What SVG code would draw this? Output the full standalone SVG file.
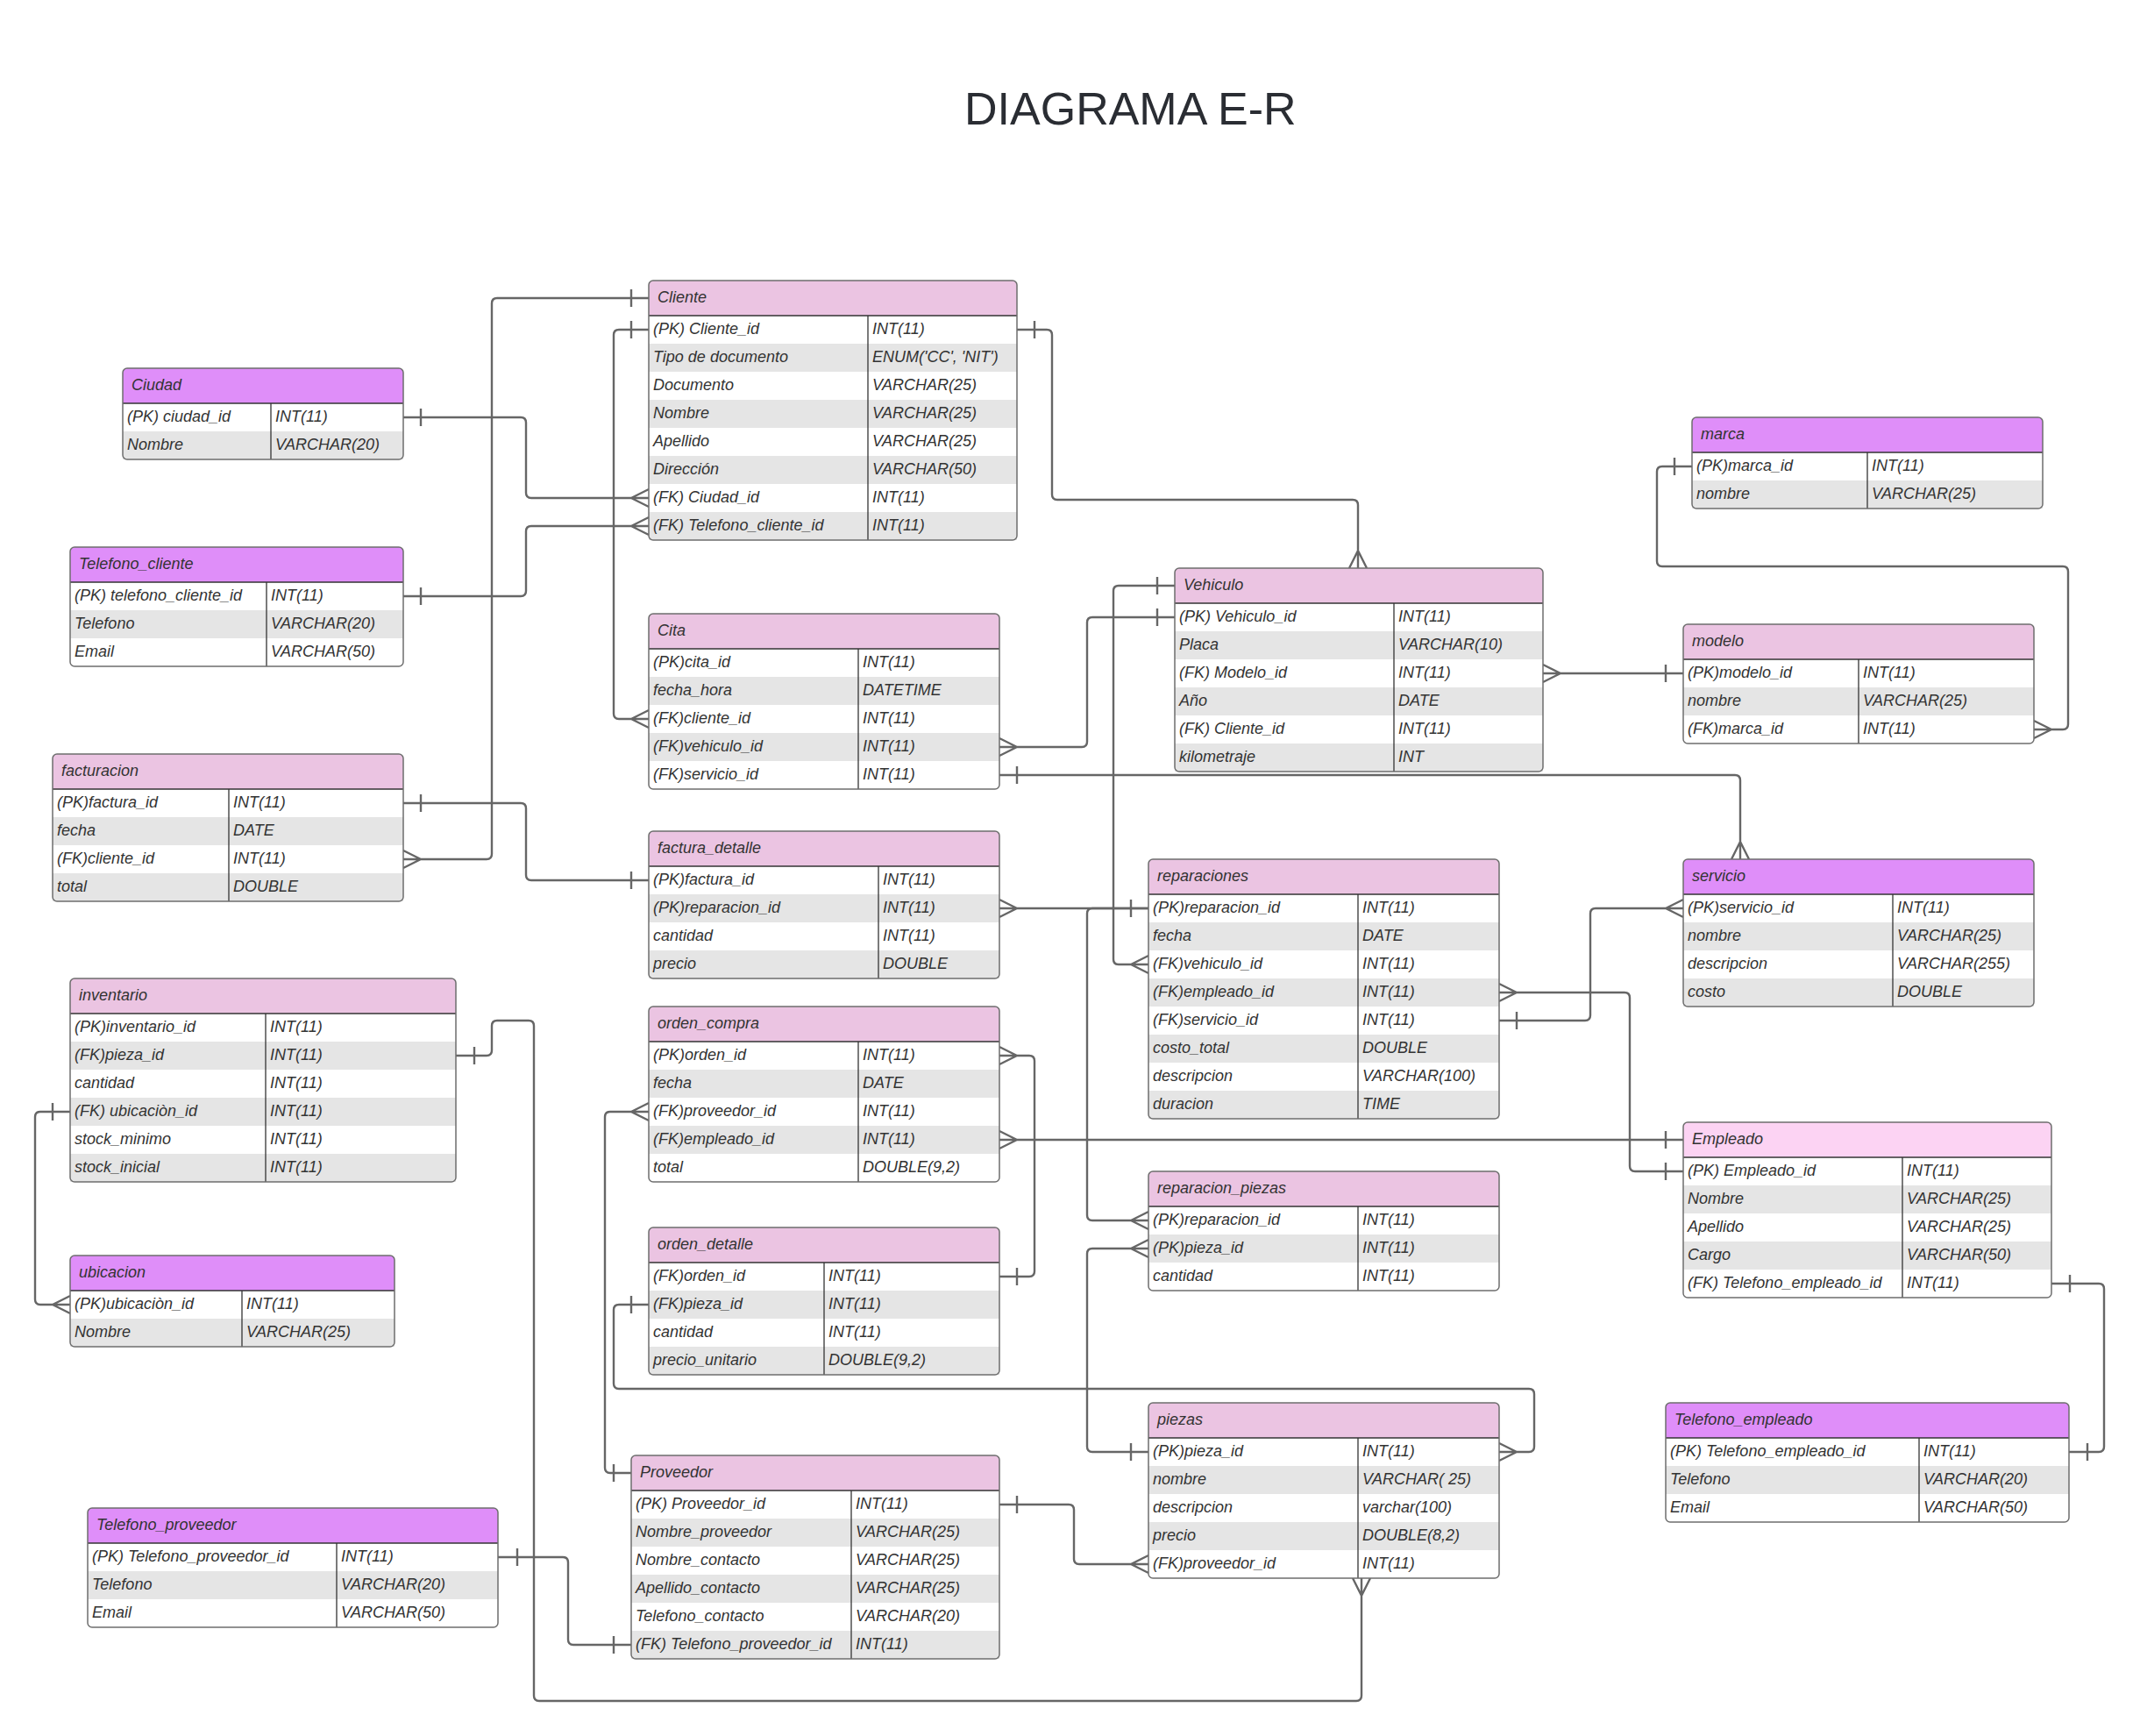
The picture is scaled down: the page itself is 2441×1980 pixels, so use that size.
<svg xmlns="http://www.w3.org/2000/svg" width="2441" height="1980" viewBox="0 0 2441 1980">
<style>
.bg{fill:#fff}
.hp{fill:#df8ef9}
.hk{fill:#ebc4e2}
.he{fill:#fcd3f3}
.g{fill:#e5e5e5}
.ol{fill:none;stroke:#6e6e6e;stroke-width:1.5}
.sep{stroke:#333;stroke-width:1.3}
text{font-family:"Liberation Sans",Arial,sans-serif;font-size:18px;font-style:italic;fill:#333}
text.title{font-size:52px;font-style:normal;fill:#2a2d33}
.cn path{fill:none;stroke:#666;stroke-width:2.4;stroke-linejoin:round}
</style>
<rect width="2441" height="1980" fill="#fff"/>
<text class="title" x="1100" y="142">DIAGRAMA E-R</text>

<g class="cn" id="connectors">
<path d="M460,476 H594 Q600,476 600,482 V562 Q600,568 606,568 H740 M480,466 V486 M740,558 L720,568 L740,578"/>
<path d="M460,680 H594 Q600,680 600,674 V606 Q600,600 606,600 H740 M480,670 V690 M740,590 L720,600 L740,610"/>
<path d="M740,340 H567 Q561,340 561,346 V974 Q561,980 555,980 H460 M720,330 V350 M460,970 L480,980 L460,990"/>
<path d="M740,376 H706 Q700,376 700,382 V814 Q700,820 706,820 H740 M720,366 V386 M740,810 L720,820 L740,830"/>
<path d="M1160,376 H1194 Q1200,376 1200,382 V564 Q1200,570 1206,570 H1543 Q1549,570 1549,576 V648 M1180,366 V386 M1539,648 L1549,628 L1559,648"/>
<path d="M1340,704 H1246 Q1240,704 1240,710 V846 Q1240,852 1234,852 H1140 M1320,694 V714 M1140,842 L1160,852 L1140,862"/>
<path d="M1340,668 H1276 Q1270,668 1270,674 V1094 Q1270,1100 1276,1100 H1310 M1320,658 V678 M1310,1090 L1290,1100 L1310,1110"/>
<path d="M1140,884 H1979 Q1985,884 1985,890 V980 M1160,874 V894 M1975,980 L1985,960 L1995,980"/>
<path d="M1760,768 H1920 M1760,758 L1780,768 L1760,778 M1900,758 V778"/>
<path d="M1930,532 H1896 Q1890,532 1890,538 V640 Q1890,646 1896,646 H2353 Q2359,646 2359,652 V826 Q2359,832 2353,832 H2320 M1910,522 V542 M2320,822 L2340,832 L2320,842"/>
<path d="M460,916 H594 Q600,916 600,922 V998 Q600,1004 606,1004 H740 M480,906 V926 M720,994 V1014"/>
<path d="M1140,1036 H1310 M1140,1026 L1160,1036 L1140,1046 M1290,1026 V1046"/>
<path d="M1310,1036 H1246 Q1240,1036 1240,1042 V1386 Q1240,1392 1246,1392 H1310 M1310,1382 L1290,1392 L1310,1402"/>
<path d="M1310,1656 H1246 Q1240,1656 1240,1650 V1430 Q1240,1424 1246,1424 H1310 M1290,1646 V1666 M1310,1414 L1290,1424 L1310,1434"/>
<path d="M1710,1132 H1853 Q1859,1132 1859,1138 V1330 Q1859,1336 1865,1336 H1920 M1710,1122 L1730,1132 L1710,1142 M1900,1326 V1346"/>
<path d="M1710,1164 H1808 Q1814,1164 1814,1158 V1042 Q1814,1036 1820,1036 H1920 M1730,1154 V1174 M1920,1026 L1900,1036 L1920,1046"/>
<path d="M1140,1300 H1920 M1140,1290 L1160,1300 L1140,1310 M1900,1290 V1310"/>
<path d="M1140,1204 H1174 Q1180,1204 1180,1210 V1450 Q1180,1456 1174,1456 H1140 M1140,1194 L1160,1204 L1140,1214 M1160,1446 V1466"/>
<path d="M740,1268 H696 Q690,1268 690,1274 V1674 Q690,1680 696,1680 H720 M740,1258 L720,1268 L740,1278 M700,1670 V1690"/>
<path d="M740,1488 H706 Q700,1488 700,1494 V1578 Q700,1584 706,1584 H1744 Q1750,1584 1750,1590 V1650 Q1750,1656 1744,1656 H1710 M720,1478 V1498 M1710,1646 L1730,1656 L1710,1666"/>
<path d="M1140,1716 H1219 Q1225,1716 1225,1722 V1778 Q1225,1784 1231,1784 H1310 M1160,1706 V1726 M1310,1774 L1290,1784 L1310,1794"/>
<path d="M568,1776 H642 Q648,1776 648,1782 V1870 Q648,1876 654,1876 H720 M590,1766 V1786 M700,1866 V1886"/>
<path d="M520,1204 H555 Q561,1204 561,1198 V1170 Q561,1164 567,1164 H603 Q609,1164 609,1170 V1934 Q609,1940 615,1940 H1547 Q1553,1940 1553,1934 V1800 M541,1194 V1214 M1543,1800 L1553,1820 L1563,1800"/>
<path d="M80,1268 H46 Q40,1268 40,1274 V1482 Q40,1488 46,1488 H80 M60,1258 V1278 M80,1478 L60,1488 L80,1498"/>
<path d="M2340,1464 H2394 Q2400,1464 2400,1470 V1650 Q2400,1656 2394,1656 H2360 M2361,1454 V1474 M2381,1646 V1666"/>
</g>

<g id="ciudad">
<rect class="bg" x="140" y="420" width="320" height="104" rx="5"/>
<rect class="hp" x="140" y="420" width="320" height="40" rx="5"/><rect class="hp" x="140" y="440" width="320" height="20"/>
<rect class="g" x="140" y="492" width="320" height="32"/>
<line class="sep" x1="140" y1="460" x2="460" y2="460"/><line class="sep" x1="309" y1="460" x2="309" y2="524"/>
<rect class="ol" x="140" y="420" width="320" height="104" rx="5"/>
<text x="150" y="445">Ciudad</text>
<text x="145" y="481">(PK) ciudad_id</text><text x="314" y="481">INT(11)</text>
<text x="145" y="513">Nombre</text><text x="314" y="513">VARCHAR(20)</text>
</g>

<g id="telefono_cliente">
<rect class="bg" x="80" y="624" width="380" height="136" rx="5"/>
<rect class="hp" x="80" y="624" width="380" height="40" rx="5"/><rect class="hp" x="80" y="644" width="380" height="20"/>
<rect class="g" x="80" y="696" width="380" height="32"/>
<line class="sep" x1="80" y1="664" x2="460" y2="664"/><line class="sep" x1="304" y1="664" x2="304" y2="760"/>
<rect class="ol" x="80" y="624" width="380" height="136" rx="5"/>
<text x="90" y="649">Telefono_cliente</text>
<text x="85" y="685">(PK) telefono_cliente_id</text><text x="309" y="685">INT(11)</text>
<text x="85" y="717">Telefono</text><text x="309" y="717">VARCHAR(20)</text>
<text x="85" y="749">Email</text><text x="309" y="749">VARCHAR(50)</text>
</g>

<g id="facturacion">
<rect class="bg" x="60" y="860" width="400" height="168" rx="5"/>
<rect class="hk" x="60" y="860" width="400" height="40" rx="5"/><rect class="hk" x="60" y="880" width="400" height="20"/>
<rect class="g" x="60" y="932" width="400" height="32"/><rect class="g" x="60" y="996" width="400" height="32"/>
<line class="sep" x1="60" y1="900" x2="460" y2="900"/><line class="sep" x1="261" y1="900" x2="261" y2="1028"/>
<rect class="ol" x="60" y="860" width="400" height="168" rx="5"/>
<text x="70" y="885">facturacion</text>
<text x="65" y="921">(PK)factura_id</text><text x="266" y="921">INT(11)</text>
<text x="65" y="953">fecha</text><text x="266" y="953">DATE</text>
<text x="65" y="985">(FK)cliente_id</text><text x="266" y="985">INT(11)</text>
<text x="65" y="1017">total</text><text x="266" y="1017">DOUBLE</text>
</g>

<g id="inventario">
<rect class="bg" x="80" y="1116" width="440" height="232" rx="5"/>
<rect class="hk" x="80" y="1116" width="440" height="40" rx="5"/><rect class="hk" x="80" y="1136" width="440" height="20"/>
<rect class="g" x="80" y="1188" width="440" height="32"/><rect class="g" x="80" y="1252" width="440" height="32"/><rect class="g" x="80" y="1316" width="440" height="32"/>
<line class="sep" x1="80" y1="1156" x2="520" y2="1156"/><line class="sep" x1="303" y1="1156" x2="303" y2="1348"/>
<rect class="ol" x="80" y="1116" width="440" height="232" rx="5"/>
<text x="90" y="1141">inventario</text>
<text x="85" y="1177">(PK)inventario_id</text><text x="308" y="1177">INT(11)</text>
<text x="85" y="1209">(FK)pieza_id</text><text x="308" y="1209">INT(11)</text>
<text x="85" y="1241">cantidad</text><text x="308" y="1241">INT(11)</text>
<text x="85" y="1273">(FK) ubicaciòn_id</text><text x="308" y="1273">INT(11)</text>
<text x="85" y="1305">stock_minimo</text><text x="308" y="1305">INT(11)</text>
<text x="85" y="1337">stock_inicial</text><text x="308" y="1337">INT(11)</text>
</g>

<g id="ubicacion">
<rect class="bg" x="80" y="1432" width="370" height="104" rx="5"/>
<rect class="hp" x="80" y="1432" width="370" height="40" rx="5"/><rect class="hp" x="80" y="1452" width="370" height="20"/>
<rect class="g" x="80" y="1504" width="370" height="32"/>
<line class="sep" x1="80" y1="1472" x2="450" y2="1472"/><line class="sep" x1="276" y1="1472" x2="276" y2="1536"/>
<rect class="ol" x="80" y="1432" width="370" height="104" rx="5"/>
<text x="90" y="1457">ubicacion</text>
<text x="85" y="1493">(PK)ubicaciòn_id</text><text x="281" y="1493">INT(11)</text>
<text x="85" y="1525">Nombre</text><text x="281" y="1525">VARCHAR(25)</text>
</g>

<g id="telefono_proveedor">
<rect class="bg" x="100" y="1720" width="468" height="136" rx="5"/>
<rect class="hp" x="100" y="1720" width="468" height="40" rx="5"/><rect class="hp" x="100" y="1740" width="468" height="20"/>
<rect class="g" x="100" y="1792" width="468" height="32"/>
<line class="sep" x1="100" y1="1760" x2="568" y2="1760"/><line class="sep" x1="384" y1="1760" x2="384" y2="1856"/>
<rect class="ol" x="100" y="1720" width="468" height="136" rx="5"/>
<text x="110" y="1745">Telefono_proveedor</text>
<text x="105" y="1781">(PK) Telefono_proveedor_id</text><text x="389" y="1781">INT(11)</text>
<text x="105" y="1813">Telefono</text><text x="389" y="1813">VARCHAR(20)</text>
<text x="105" y="1845">Email</text><text x="389" y="1845">VARCHAR(50)</text>
</g>

<g id="cliente">
<rect class="bg" x="740" y="320" width="420" height="296" rx="5"/>
<rect class="hk" x="740" y="320" width="420" height="40" rx="5"/><rect class="hk" x="740" y="340" width="420" height="20"/>
<rect class="g" x="740" y="392" width="420" height="32"/><rect class="g" x="740" y="456" width="420" height="32"/><rect class="g" x="740" y="520" width="420" height="32"/><rect class="g" x="740" y="584" width="420" height="32"/>
<line class="sep" x1="740" y1="360" x2="1160" y2="360"/><line class="sep" x1="990" y1="360" x2="990" y2="616"/>
<rect class="ol" x="740" y="320" width="420" height="296" rx="5"/>
<text x="750" y="345">Cliente</text>
<text x="745" y="381">(PK) Cliente_id</text><text x="995" y="381">INT(11)</text>
<text x="745" y="413">Tipo de documento</text><text x="995" y="413">ENUM('CC', 'NIT')</text>
<text x="745" y="445">Documento</text><text x="995" y="445">VARCHAR(25)</text>
<text x="745" y="477">Nombre</text><text x="995" y="477">VARCHAR(25)</text>
<text x="745" y="509">Apellido</text><text x="995" y="509">VARCHAR(25)</text>
<text x="745" y="541">Dirección</text><text x="995" y="541">VARCHAR(50)</text>
<text x="745" y="573">(FK) Ciudad_id</text><text x="995" y="573">INT(11)</text>
<text x="745" y="605">(FK) Telefono_cliente_id</text><text x="995" y="605">INT(11)</text>
</g>

<g id="cita">
<rect class="bg" x="740" y="700" width="400" height="200" rx="5"/>
<rect class="hk" x="740" y="700" width="400" height="40" rx="5"/><rect class="hk" x="740" y="720" width="400" height="20"/>
<rect class="g" x="740" y="772" width="400" height="32"/><rect class="g" x="740" y="836" width="400" height="32"/>
<line class="sep" x1="740" y1="740" x2="1140" y2="740"/><line class="sep" x1="979" y1="740" x2="979" y2="900"/>
<rect class="ol" x="740" y="700" width="400" height="200" rx="5"/>
<text x="750" y="725">Cita</text>
<text x="745" y="761">(PK)cita_id</text><text x="984" y="761">INT(11)</text>
<text x="745" y="793">fecha_hora</text><text x="984" y="793">DATETIME</text>
<text x="745" y="825">(FK)cliente_id</text><text x="984" y="825">INT(11)</text>
<text x="745" y="857">(FK)vehiculo_id</text><text x="984" y="857">INT(11)</text>
<text x="745" y="889">(FK)servicio_id</text><text x="984" y="889">INT(11)</text>
</g>

<g id="factura_detalle">
<rect class="bg" x="740" y="948" width="400" height="168" rx="5"/>
<rect class="hk" x="740" y="948" width="400" height="40" rx="5"/><rect class="hk" x="740" y="968" width="400" height="20"/>
<rect class="g" x="740" y="1020" width="400" height="32"/><rect class="g" x="740" y="1084" width="400" height="32"/>
<line class="sep" x1="740" y1="988" x2="1140" y2="988"/><line class="sep" x1="1002" y1="988" x2="1002" y2="1116"/>
<rect class="ol" x="740" y="948" width="400" height="168" rx="5"/>
<text x="750" y="973">factura_detalle</text>
<text x="745" y="1009">(PK)factura_id</text><text x="1007" y="1009">INT(11)</text>
<text x="745" y="1041">(PK)reparacion_id</text><text x="1007" y="1041">INT(11)</text>
<text x="745" y="1073">cantidad</text><text x="1007" y="1073">INT(11)</text>
<text x="745" y="1105">precio</text><text x="1007" y="1105">DOUBLE</text>
</g>

<g id="orden_compra">
<rect class="bg" x="740" y="1148" width="400" height="200" rx="5"/>
<rect class="hk" x="740" y="1148" width="400" height="40" rx="5"/><rect class="hk" x="740" y="1168" width="400" height="20"/>
<rect class="g" x="740" y="1220" width="400" height="32"/><rect class="g" x="740" y="1284" width="400" height="32"/>
<line class="sep" x1="740" y1="1188" x2="1140" y2="1188"/><line class="sep" x1="979" y1="1188" x2="979" y2="1348"/>
<rect class="ol" x="740" y="1148" width="400" height="200" rx="5"/>
<text x="750" y="1173">orden_compra</text>
<text x="745" y="1209">(PK)orden_id</text><text x="984" y="1209">INT(11)</text>
<text x="745" y="1241">fecha</text><text x="984" y="1241">DATE</text>
<text x="745" y="1273">(FK)proveedor_id</text><text x="984" y="1273">INT(11)</text>
<text x="745" y="1305">(FK)empleado_id</text><text x="984" y="1305">INT(11)</text>
<text x="745" y="1337">total</text><text x="984" y="1337">DOUBLE(9,2)</text>
</g>

<g id="orden_detalle">
<rect class="bg" x="740" y="1400" width="400" height="168" rx="5"/>
<rect class="hk" x="740" y="1400" width="400" height="40" rx="5"/><rect class="hk" x="740" y="1420" width="400" height="20"/>
<rect class="g" x="740" y="1472" width="400" height="32"/><rect class="g" x="740" y="1536" width="400" height="32"/>
<line class="sep" x1="740" y1="1440" x2="1140" y2="1440"/><line class="sep" x1="940" y1="1440" x2="940" y2="1568"/>
<rect class="ol" x="740" y="1400" width="400" height="168" rx="5"/>
<text x="750" y="1425">orden_detalle</text>
<text x="745" y="1461">(FK)orden_id</text><text x="945" y="1461">INT(11)</text>
<text x="745" y="1493">(FK)pieza_id</text><text x="945" y="1493">INT(11)</text>
<text x="745" y="1525">cantidad</text><text x="945" y="1525">INT(11)</text>
<text x="745" y="1557">precio_unitario</text><text x="945" y="1557">DOUBLE(9,2)</text>
</g>

<g id="proveedor">
<rect class="bg" x="720" y="1660" width="420" height="232" rx="5"/>
<rect class="hk" x="720" y="1660" width="420" height="40" rx="5"/><rect class="hk" x="720" y="1680" width="420" height="20"/>
<rect class="g" x="720" y="1732" width="420" height="32"/><rect class="g" x="720" y="1796" width="420" height="32"/><rect class="g" x="720" y="1860" width="420" height="32"/>
<line class="sep" x1="720" y1="1700" x2="1140" y2="1700"/><line class="sep" x1="971" y1="1700" x2="971" y2="1892"/>
<rect class="ol" x="720" y="1660" width="420" height="232" rx="5"/>
<text x="730" y="1685">Proveedor</text>
<text x="725" y="1721">(PK) Proveedor_id</text><text x="976" y="1721">INT(11)</text>
<text x="725" y="1753">Nombre_proveedor</text><text x="976" y="1753">VARCHAR(25)</text>
<text x="725" y="1785">Nombre_contacto</text><text x="976" y="1785">VARCHAR(25)</text>
<text x="725" y="1817">Apellido_contacto</text><text x="976" y="1817">VARCHAR(25)</text>
<text x="725" y="1849">Telefono_contacto</text><text x="976" y="1849">VARCHAR(20)</text>
<text x="725" y="1881">(FK) Telefono_proveedor_id</text><text x="976" y="1881">INT(11)</text>
</g>

<g id="vehiculo">
<rect class="bg" x="1340" y="648" width="420" height="232" rx="5"/>
<rect class="hk" x="1340" y="648" width="420" height="40" rx="5"/><rect class="hk" x="1340" y="668" width="420" height="20"/>
<rect class="g" x="1340" y="720" width="420" height="32"/><rect class="g" x="1340" y="784" width="420" height="32"/><rect class="g" x="1340" y="848" width="420" height="32"/>
<line class="sep" x1="1340" y1="688" x2="1760" y2="688"/><line class="sep" x1="1590" y1="688" x2="1590" y2="880"/>
<rect class="ol" x="1340" y="648" width="420" height="232" rx="5"/>
<text x="1350" y="673">Vehiculo</text>
<text x="1345" y="709">(PK) Vehiculo_id</text><text x="1595" y="709">INT(11)</text>
<text x="1345" y="741">Placa</text><text x="1595" y="741">VARCHAR(10)</text>
<text x="1345" y="773">(FK) Modelo_id</text><text x="1595" y="773">INT(11)</text>
<text x="1345" y="805">Año</text><text x="1595" y="805">DATE</text>
<text x="1345" y="837">(FK) Cliente_id</text><text x="1595" y="837">INT(11)</text>
<text x="1345" y="869">kilometraje</text><text x="1595" y="869">INT</text>
</g>

<g id="reparaciones">
<rect class="bg" x="1310" y="980" width="400" height="296" rx="5"/>
<rect class="hk" x="1310" y="980" width="400" height="40" rx="5"/><rect class="hk" x="1310" y="1000" width="400" height="20"/>
<rect class="g" x="1310" y="1052" width="400" height="32"/><rect class="g" x="1310" y="1116" width="400" height="32"/><rect class="g" x="1310" y="1180" width="400" height="32"/><rect class="g" x="1310" y="1244" width="400" height="32"/>
<line class="sep" x1="1310" y1="1020" x2="1710" y2="1020"/><line class="sep" x1="1549" y1="1020" x2="1549" y2="1276"/>
<rect class="ol" x="1310" y="980" width="400" height="296" rx="5"/>
<text x="1320" y="1005">reparaciones</text>
<text x="1315" y="1041">(PK)reparacion_id</text><text x="1554" y="1041">INT(11)</text>
<text x="1315" y="1073">fecha</text><text x="1554" y="1073">DATE</text>
<text x="1315" y="1105">(FK)vehiculo_id</text><text x="1554" y="1105">INT(11)</text>
<text x="1315" y="1137">(FK)empleado_id</text><text x="1554" y="1137">INT(11)</text>
<text x="1315" y="1169">(FK)servicio_id</text><text x="1554" y="1169">INT(11)</text>
<text x="1315" y="1201">costo_total</text><text x="1554" y="1201">DOUBLE</text>
<text x="1315" y="1233">descripcion</text><text x="1554" y="1233">VARCHAR(100)</text>
<text x="1315" y="1265">duracion</text><text x="1554" y="1265">TIME</text>
</g>

<g id="reparacion_piezas">
<rect class="bg" x="1310" y="1336" width="400" height="136" rx="5"/>
<rect class="hk" x="1310" y="1336" width="400" height="40" rx="5"/><rect class="hk" x="1310" y="1356" width="400" height="20"/>
<rect class="g" x="1310" y="1408" width="400" height="32"/>
<line class="sep" x1="1310" y1="1376" x2="1710" y2="1376"/><line class="sep" x1="1549" y1="1376" x2="1549" y2="1472"/>
<rect class="ol" x="1310" y="1336" width="400" height="136" rx="5"/>
<text x="1320" y="1361">reparacion_piezas</text>
<text x="1315" y="1397">(PK)reparacion_id</text><text x="1554" y="1397">INT(11)</text>
<text x="1315" y="1429">(PK)pieza_id</text><text x="1554" y="1429">INT(11)</text>
<text x="1315" y="1461">cantidad</text><text x="1554" y="1461">INT(11)</text>
</g>

<g id="piezas">
<rect class="bg" x="1310" y="1600" width="400" height="200" rx="5"/>
<rect class="hk" x="1310" y="1600" width="400" height="40" rx="5"/><rect class="hk" x="1310" y="1620" width="400" height="20"/>
<rect class="g" x="1310" y="1672" width="400" height="32"/><rect class="g" x="1310" y="1736" width="400" height="32"/>
<line class="sep" x1="1310" y1="1640" x2="1710" y2="1640"/><line class="sep" x1="1549" y1="1640" x2="1549" y2="1800"/>
<rect class="ol" x="1310" y="1600" width="400" height="200" rx="5"/>
<text x="1320" y="1625">piezas</text>
<text x="1315" y="1661">(PK)pieza_id</text><text x="1554" y="1661">INT(11)</text>
<text x="1315" y="1693">nombre</text><text x="1554" y="1693">VARCHAR( 25)</text>
<text x="1315" y="1725">descripcion</text><text x="1554" y="1725">varchar(100)</text>
<text x="1315" y="1757">precio</text><text x="1554" y="1757">DOUBLE(8,2)</text>
<text x="1315" y="1789">(FK)proveedor_id</text><text x="1554" y="1789">INT(11)</text>
</g>

<g id="marca">
<rect class="bg" x="1930" y="476" width="400" height="104" rx="5"/>
<rect class="hp" x="1930" y="476" width="400" height="40" rx="5"/><rect class="hp" x="1930" y="496" width="400" height="20"/>
<rect class="g" x="1930" y="548" width="400" height="32"/>
<line class="sep" x1="1930" y1="516" x2="2330" y2="516"/><line class="sep" x1="2130" y1="516" x2="2130" y2="580"/>
<rect class="ol" x="1930" y="476" width="400" height="104" rx="5"/>
<text x="1940" y="501">marca</text>
<text x="1935" y="537">(PK)marca_id</text><text x="2135" y="537">INT(11)</text>
<text x="1935" y="569">nombre</text><text x="2135" y="569">VARCHAR(25)</text>
</g>

<g id="modelo">
<rect class="bg" x="1920" y="712" width="400" height="136" rx="5"/>
<rect class="hk" x="1920" y="712" width="400" height="40" rx="5"/><rect class="hk" x="1920" y="732" width="400" height="20"/>
<rect class="g" x="1920" y="784" width="400" height="32"/>
<line class="sep" x1="1920" y1="752" x2="2320" y2="752"/><line class="sep" x1="2120" y1="752" x2="2120" y2="848"/>
<rect class="ol" x="1920" y="712" width="400" height="136" rx="5"/>
<text x="1930" y="737">modelo</text>
<text x="1925" y="773">(PK)modelo_id</text><text x="2125" y="773">INT(11)</text>
<text x="1925" y="805">nombre</text><text x="2125" y="805">VARCHAR(25)</text>
<text x="1925" y="837">(FK)marca_id</text><text x="2125" y="837">INT(11)</text>
</g>

<g id="servicio">
<rect class="bg" x="1920" y="980" width="400" height="168" rx="5"/>
<rect class="hp" x="1920" y="980" width="400" height="40" rx="5"/><rect class="hp" x="1920" y="1000" width="400" height="20"/>
<rect class="g" x="1920" y="1052" width="400" height="32"/><rect class="g" x="1920" y="1116" width="400" height="32"/>
<line class="sep" x1="1920" y1="1020" x2="2320" y2="1020"/><line class="sep" x1="2159" y1="1020" x2="2159" y2="1148"/>
<rect class="ol" x="1920" y="980" width="400" height="168" rx="5"/>
<text x="1930" y="1005">servicio</text>
<text x="1925" y="1041">(PK)servicio_id</text><text x="2164" y="1041">INT(11)</text>
<text x="1925" y="1073">nombre</text><text x="2164" y="1073">VARCHAR(25)</text>
<text x="1925" y="1105">descripcion</text><text x="2164" y="1105">VARCHAR(255)</text>
<text x="1925" y="1137">costo</text><text x="2164" y="1137">DOUBLE</text>
</g>

<g id="empleado">
<rect class="bg" x="1920" y="1280" width="420" height="200" rx="5"/>
<rect class="he" x="1920" y="1280" width="420" height="40" rx="5"/><rect class="he" x="1920" y="1300" width="420" height="20"/>
<rect class="g" x="1920" y="1352" width="420" height="32"/><rect class="g" x="1920" y="1416" width="420" height="32"/>
<line class="sep" x1="1920" y1="1320" x2="2340" y2="1320"/><line class="sep" x1="2170" y1="1320" x2="2170" y2="1480"/>
<rect class="ol" x="1920" y="1280" width="420" height="200" rx="5"/>
<text x="1930" y="1305">Empleado</text>
<text x="1925" y="1341">(PK) Empleado_id</text><text x="2175" y="1341">INT(11)</text>
<text x="1925" y="1373">Nombre</text><text x="2175" y="1373">VARCHAR(25)</text>
<text x="1925" y="1405">Apellido</text><text x="2175" y="1405">VARCHAR(25)</text>
<text x="1925" y="1437">Cargo</text><text x="2175" y="1437">VARCHAR(50)</text>
<text x="1925" y="1469">(FK) Telefono_empleado_id</text><text x="2175" y="1469">INT(11)</text>
</g>

<g id="telefono_empleado">
<rect class="bg" x="1900" y="1600" width="460" height="136" rx="5"/>
<rect class="hp" x="1900" y="1600" width="460" height="40" rx="5"/><rect class="hp" x="1900" y="1620" width="460" height="20"/>
<rect class="g" x="1900" y="1672" width="460" height="32"/>
<line class="sep" x1="1900" y1="1640" x2="2360" y2="1640"/><line class="sep" x1="2189" y1="1640" x2="2189" y2="1736"/>
<rect class="ol" x="1900" y="1600" width="460" height="136" rx="5"/>
<text x="1910" y="1625">Telefono_empleado</text>
<text x="1905" y="1661">(PK) Telefono_empleado_id</text><text x="2194" y="1661">INT(11)</text>
<text x="1905" y="1693">Telefono</text><text x="2194" y="1693">VARCHAR(20)</text>
<text x="1905" y="1725">Email</text><text x="2194" y="1725">VARCHAR(50)</text>
</g>
</svg>
